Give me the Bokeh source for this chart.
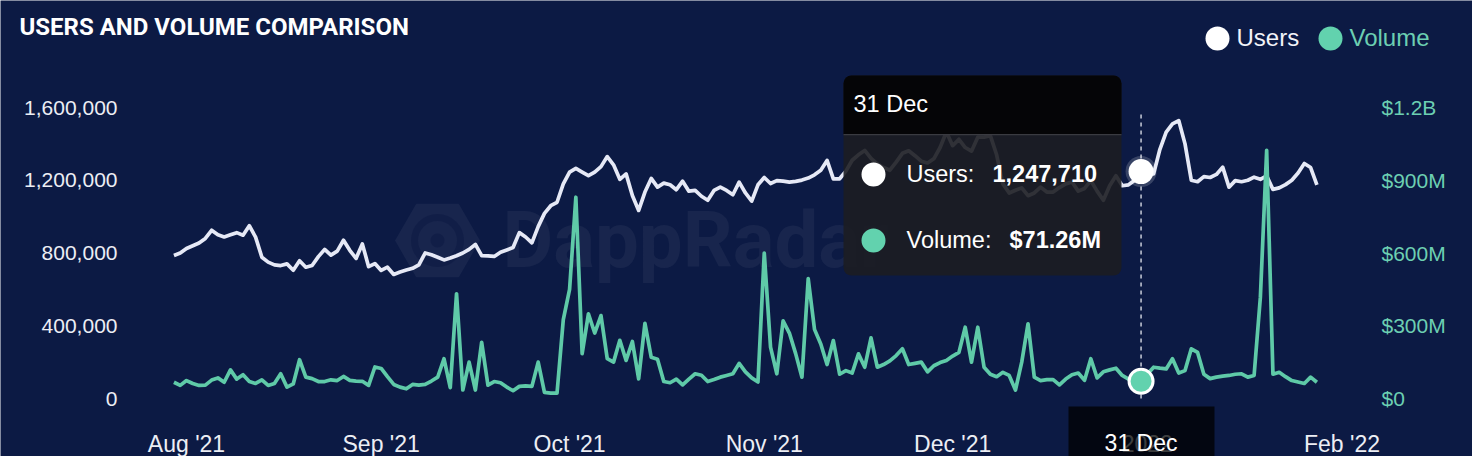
import pandas as pd
from bokeh.plotting import figure
from bokeh.models import (Range1d, LinearAxis, FixedTicker, NumeralTickFormatter,
                          Label, BoxAnnotation, ColumnDataSource)
from bokeh.core.properties import value
from bokeh.embed import file_html
from bokeh.resources import INLINE

# ---------------- data ----------------
start_date = "2021-07-30"

# daily unique users, thousands
users_k = [
    786, 800, 825, 840, 855, 880, 925, 900, 888, 900,
    912, 898, 950, 887, 777, 750, 735, 731, 740, 705,
    757, 722, 731, 780, 820, 788, 810, 870, 815, 770,
    850, 725, 742, 704, 722, 682, 695, 706, 716, 735,
    800, 790, 777, 762, 772, 785, 800, 820, 847, 786,
    784, 781, 804, 817, 830, 912, 888, 856, 945, 1018,
    1060, 1079, 1180, 1245, 1265, 1245, 1225, 1245, 1275, 1330,
    1285, 1205, 1235, 1116, 1034, 1135, 1210, 1162, 1184, 1175,
    1148, 1195, 1140, 1144, 1112, 1090, 1144, 1162, 1144, 1120,
    1190, 1130, 1085, 1175, 1215, 1182, 1198, 1195, 1190, 1194,
    1201, 1212, 1230, 1255, 1309, 1208, 1208, 1250, 1310, 1340,
    1364, 1320, 1290, 1270, 1255, 1300, 1348, 1362, 1335, 1305,
    1295, 1318, 1380, 1465, 1390, 1425, 1380, 1360, 1437, 1437,
    1445, 1340, 1180, 1130, 1145, 1158, 1115, 1130, 1162, 1135,
    1135, 1160, 1180, 1190, 1140, 1155, 1198, 1140, 1090, 1170,
    1225, 1170, 1175, 1200, 1247.71, 1240, 1235, 1370, 1465, 1510,
    1528, 1400, 1200, 1192, 1220, 1215, 1232, 1272, 1162, 1198,
    1192, 1200, 1217, 1205, 1224, 1150, 1158, 1176, 1200, 1240,
    1292, 1270, 1175,
]

# daily volume, millions of USD
volume_m = [
    67, 54, 74, 62, 54, 55, 76, 85, 67, 118,
    80, 98, 70, 62, 77, 54, 62, 102, 47, 60,
    160, 88, 82, 70, 70, 77, 74, 91, 75, 72,
    71, 54, 130, 124, 90, 58, 47, 40, 58, 55,
    58, 72, 88, 164, 45, 432, 35, 150, 35, 232,
    55, 70, 65, 47, 32, 50, 52, 50, 150, 25,
    22, 22, 325, 450, 830, 185, 349, 270, 342, 164,
    150, 240, 157, 235, 81, 310, 170, 162, 70, 65,
    80, 56, 80, 102, 96, 70, 78, 88, 95, 102,
    145, 110, 85, 68, 600, 212, 102, 320, 270, 185,
    88, 494, 285, 225, 140, 239, 100, 115, 105, 184,
    129, 250, 129, 140, 155, 177, 205, 140, 145, 150,
    110, 135, 148, 157, 175, 190, 294, 150, 294, 129,
    100, 90, 108, 95, 35, 150, 308, 88, 74, 78,
    78, 56, 80, 98, 105, 75, 164, 85, 110, 118,
    125, 95, 80, 74, 71.26, 100, 129, 125, 122, 164,
    105, 115, 205, 190, 100, 82, 88, 92, 95, 100,
    102, 88, 95, 418, 1023, 100, 108, 90, 74, 68,
    62, 88, 67,
]

x_tick_dates = ["2021-08-01", "2021-09-01", "2021-10-01", "2021-11-01",
                "2021-12-01", "2022-01-01", "2022-02-01"]
x_tick_labels = ["Aug '21", "Sep '21", "Oct '21", "Nov '21", "Dec '21", "2022", "Feb '22"]
users_ticks = [0, 400000, 800000, 1200000, 1600000]
volume_ticks = [0, 300000000, 600000000, 900000000, 1200000000]
volume_tick_labels = ["$0", "$300M", "$600M", "$900M", "$1.2B"]
title_text = "USERS AND VOLUME COMPARISON"
series_names = ["Users", "Volume"]
hover_date = "2021-12-31"

assert len(users_k) == len(volume_m)
users = [round(u * 1000) for u in users_k]
volume = [v * 1e6 for v in volume_m]
dates = pd.date_range(start_date, periods=len(users), freq="D")
src = ColumnDataSource(dict(date=dates, users=users, volume=volume))

hover_ts = pd.Timestamp(hover_date)
idx = list(dates).index(hover_ts)
hover_ms = hover_ts.value / 1e6
hover_label = hover_ts.strftime("%d %b")

# ---------------- styling / geometry ----------------
BG = "#0c1a44"
USERS_C = "#e6e9f6"
VOL_C = "#5fcaa8"
VOL_DOT = "#62d2ae"
VOL_TXT = "#6ccfb2"
TXT = "#eceef4"
FONT = "Liberation Sans"

DAY_MS = 86400000.0
AUG1 = pd.Timestamp(x_tick_dates[0]).value / 1e6
PX_PER_DAY = 6.28
U2V = volume_ticks[-1] / users_ticks[-1]
W, H = 1472, 456


def sx2x(sx):
    return AUG1 + (sx - 186.0) / PX_PER_DAY * DAY_MS


def sy2y(sy):
    return (398.0 - sy) * users_ticks[-1] / 291.0


p = figure(width=W, height=H, x_axis_type="datetime",
           x_range=Range1d(sx2x(0), sx2x(W)),
           y_range=Range1d(sy2y(H), sy2y(0)),
           output_backend="svg", toolbar_location=None,
           min_border=0, min_border_left=0, min_border_right=0,
           min_border_top=0, min_border_bottom=0,
           background_fill_color=BG, border_fill_color=BG,
           outline_line_color=None)
p.extra_y_ranges = {"vol": Range1d(sy2y(H) * U2V, sy2y(0) * U2V)}
p.grid.visible = False


def style_axis(ax, color, size, standoff):
    ax.axis_line_color = None
    ax.major_tick_line_color = None
    ax.minor_tick_line_color = None
    ax.major_tick_out = 0
    ax.major_tick_in = 0
    ax.minor_tick_out = 0
    ax.minor_tick_in = 0
    ax.major_label_text_color = color
    ax.major_label_text_font = FONT
    ax.major_label_text_font_size = size
    ax.major_label_standoff = standoff


tick_ms = [int(pd.Timestamp(d).value // 10**6) for d in x_tick_dates]
xa = p.xaxis[0]
xa.ticker = FixedTicker(ticks=tick_ms)
xa.major_label_overrides = dict(zip(tick_ms, x_tick_labels))
xa.fixed_location = sy2y(414)
style_axis(xa, TXT, "23px", 16)

ya = p.yaxis[0]
ya.ticker = FixedTicker(ticks=users_ticks)
ya.formatter = NumeralTickFormatter(format="0,0")
ya.fixed_location = sx2x(127)
style_axis(ya, TXT, "21px", 10)

ra = LinearAxis(y_range_name="vol", ticker=FixedTicker(ticks=volume_ticks))
ra.major_label_overrides = dict(zip(volume_ticks, volume_tick_labels))
ra.fixed_location = sx2x(1371)
style_axis(ra, VOL_TXT, "21px", 10)
p.add_layout(ra, "right")

# ---------------- watermark ----------------
p.scatter(x=[sx2x(437)], y=[sy2y(240)], marker="hex", size=85,
          fill_color="white", fill_alpha=0.05, line_color=None)
p.scatter(x=[sx2x(437)], y=[sy2y(240)], marker="circle", size=46,
          fill_color=None, line_color=BG, line_alpha=0.55, line_width=7)
p.scatter(x=[sx2x(437)], y=[sy2y(240)], marker="circle", size=14,
          fill_color=BG, fill_alpha=0.55, line_color=None)
p.text(x=[sx2x(502)], y=[sy2y(240)], text=["DappRadar"],
       text_font=value("Roboto"), text_font_style="bold", text_font_size="78px",
       text_color="white", text_alpha=0.05, text_baseline="middle")

# ---------------- series ----------------
p.line(x="date", y="users", source=src, line_color=USERS_C, line_width=3.7,
       line_join="round")
p.line(x="date", y="volume", source=src, y_range_name="vol", line_color=VOL_C,
       line_width=3.7, line_join="round")

# crosshair + hover markers
p.segment(x0=[hover_ms], y0=[0], x1=[hover_ms], y1=[sy2y(112)],
          line_color="#c9cdd9", line_width=1.5, line_dash="4 4")
p.scatter(x=[hover_ms], y=[users[idx]], size=31, fill_color="white",
          fill_alpha=0.18, line_color=None)
p.scatter(x=[hover_ms], y=[users[idx]], size=25, fill_color="white",
          line_color=None)
p.scatter(x=[hover_ms], y=[volume[idx]], y_range_name="vol", size=24,
          fill_color=VOL_DOT, line_color="white", line_width=3)


def label(sx, sy, text, size, color, font=FONT, bold=False, align="left",
          level="annotation"):
    # sy is the visual centre of the text line
    p.add_layout(Label(x=sx, y=sy2y(sy - 1), text=text, text_font=font,
                       text_font_size=size, text_color=color,
                       text_font_style="bold" if bold else "normal",
                       text_align=align, text_baseline="alphabetic", level=level))


# ---------------- title & legend ----------------
label(sx2x(19), 27.5, title_text, "24px", "white", font="Roboto", bold=True)
p.scatter(x=[sx2x(1217)], y=[sy2y(38)], size=24, fill_color="white", line_color=None)
label(sx2x(1236), 38, series_names[0], "24px", "#f2f3f8")
p.scatter(x=[sx2x(1330)], y=[sy2y(38)], size=24, fill_color=VOL_DOT, line_color=None)
label(sx2x(1349), 38, series_names[1], "24px", VOL_TXT)

# ---------------- tooltip ----------------
p.add_layout(BoxAnnotation(left=sx2x(843), right=sx2x(1121), top=sy2y(75),
                           bottom=sy2y(275), fill_color="#1c1d22", fill_alpha=0.9,
                           line_color=None, border_radius=8))
p.add_layout(BoxAnnotation(left=sx2x(843), right=sx2x(1121), top=sy2y(75),
                           bottom=sy2y(134), fill_color="#050507", fill_alpha=1.0,
                           line_color=None, border_radius=(8, 8, 0, 0)))
p.add_layout(BoxAnnotation(left=sx2x(843), right=sx2x(1121), top=sy2y(133.5),
                           bottom=sy2y(134.8), fill_color="#3a3b41", fill_alpha=1.0,
                           line_color=None))

label(sx2x(853), 104, hover_label, "23.5px", "white", level="overlay")
r1 = p.scatter(x=[sx2x(873)], y=[sy2y(174)], size=24, fill_color="white", line_color=None)
r1.level = "overlay"
label(sx2x(906), 174, series_names[0] + ":", "23.5px", "white", level="overlay")
label(sx2x(992), 174, f"{users[idx]:,}", "23.5px", "white", bold=True, level="overlay")
r2 = p.scatter(x=[sx2x(873)], y=[sy2y(240)], size=24, fill_color=VOL_DOT, line_color=None)
r2.level = "overlay"
label(sx2x(906), 240, series_names[1] + ":", "23.5px", "white", level="overlay")
label(sx2x(1009), 240, f"${volume_m[idx]:.2f}M", "23.5px", "white", bold=True,
      level="overlay")

# crosshair label box under the x axis
p.add_layout(BoxAnnotation(left=sx2x(1068), right=sx2x(1214), top=sy2y(406),
                           bottom=sy2y(470), fill_color="black", fill_alpha=0.74,
                           line_color=None, level="overlay"))
label(hover_ms, 443, hover_label, "23px", "white", align="center", level="overlay")

open("out.html", "w").write(file_html(p, INLINE))
